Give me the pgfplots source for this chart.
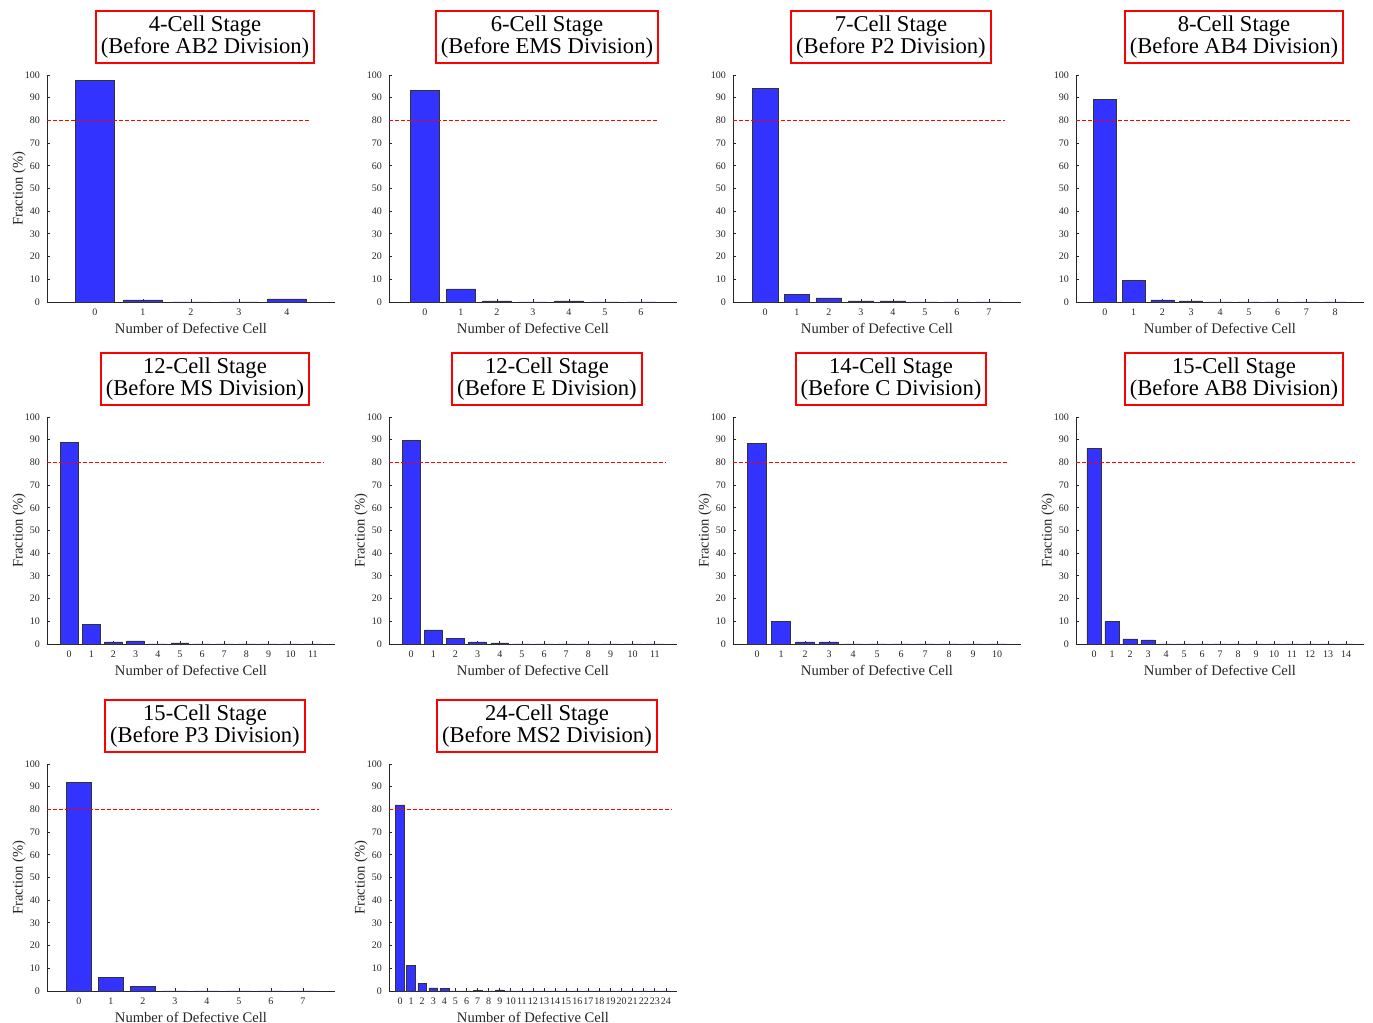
\documentclass[border=0pt]{standalone}
\usepackage{fontspec}
\setmainfont{Liberation Serif}
\usepackage{pgfplots}
\pgfplotsset{compat=1.18}
\definecolor{barblue}{rgb}{0.2,0.2,1}
\definecolor{axgray}{rgb}{0.15,0.15,0.15}
\pgfplotsset{
 panel/.style={
  scale only axis, width=144pt, height=113.5pt,
  axis x line=bottom, axis y line=left,
  axis line style={axgray, line width=0.4pt, -},
  ymin=0, ymax=100, ytick={0,10,...,100},
  xmin=-1,
  tick align=inside, major tick length=1.5pt,
  tick style={axgray, line width=0.4pt},
  tick label style={font=\fontsize{5}{6}\selectfont, text=axgray},
  /pgf/number format/assume math mode=true,
  xlabel={Number of Defective Cell},
  label style={font=\fontsize{7.3}{8}\selectfont, text=axgray},
  xlabel style={at={(axis description cs:0.5,-0.1145)}, anchor=center},
  ylabel style={at={(axis description cs:-0.097,0.5)}, anchor=center},
  every axis title shift=0pt,
  title style={at={(axis description cs:0.5486,1.1674)}, anchor=center,
    draw=red, line width=1pt, align=center, inner sep=2.5pt,
    font=\fontsize{11.3}{11}\selectfont, text=black},
  clip=false,
 },
 bars/.style={ybar, bar width=0.8, fill=barblue, draw=black!80, line width=0.3pt},
 thr/.style={color=red, line width=0.6pt, dash pattern=on 2pt off 1pt},
}
\begin{document}
\begin{tikzpicture}
\useasboundingbox (0,0) rectangle (686.5pt,511.5pt);
% Row 1
\begin{axis}[panel, at={(23.5pt,360.5pt)}, anchor=south west, xmax=5, xtick={0,...,4},
  ylabel={Fraction (\%)}, title={4-Cell Stage\\(Before AB2 Division)}]
\addplot[bars] coordinates {(0,97.7) (1,0.9) (2,0) (3,0) (4,1.4)};
\addplot[thr] coordinates {(-1,80) (4.5,80)};
\end{axis}
\begin{axis}[panel, at={(194.5pt,360.5pt)}, anchor=south west, xmax=7, xtick={0,...,6},
  title={6-Cell Stage\\(Before EMS Division)}]
\addplot[bars] coordinates {(0,93.2) (1,5.8) (2,0.5) (3,0) (4,0.5) (5,0) (6,0)};
\addplot[thr] coordinates {(-1,80) (6.5,80)};
\end{axis}
\begin{axis}[panel, at={(366.5pt,360.5pt)}, anchor=south west, xmax=8, xtick={0,...,7},
  title={7-Cell Stage\\(Before P2 Division)}]
\addplot[bars] coordinates {(0,94.0) (1,3.2) (2,1.8) (3,0.5) (4,0.5) (5,0) (6,0) (7,0)};
\addplot[thr] coordinates {(-1,80) (7.5,80)};
\end{axis}
\begin{axis}[panel, at={(538pt,360.5pt)}, anchor=south west, xmax=9, xtick={0,...,8},
  title={8-Cell Stage\\(Before AB4 Division)}]
\addplot[bars] coordinates {(0,89.2) (1,9.4) (2,0.9) (3,0.5) (4,0) (5,0) (6,0) (7,0) (8,0)};
\addplot[thr] coordinates {(-1,80) (8.5,80)};
\end{axis}
% Row 2
\begin{axis}[panel, at={(23.5pt,189.5pt)}, anchor=south west, xmax=12, xtick={0,...,11},
  ylabel={Fraction (\%)}, title={12-Cell Stage\\(Before MS Division)}]
\addplot[bars] coordinates {(0,88.7) (1,8.5) (2,0.9) (3,1.4) (4,0) (5,0.5) (6,0) (7,0) (8,0) (9,0) (10,0) (11,0)};
\addplot[thr] coordinates {(-1,80) (11.5,80)};
\end{axis}
\begin{axis}[panel, at={(194.5pt,189.5pt)}, anchor=south west, xmax=12, xtick={0,...,11},
  ylabel={Fraction (\%)}, title={12-Cell Stage\\(Before E Division)}]
\addplot[bars] coordinates {(0,89.8) (1,6.2) (2,2.6) (3,0.9) (4,0.5) (5,0) (6,0) (7,0) (8,0) (9,0) (10,0) (11,0)};
\addplot[thr] coordinates {(-1,80) (11.5,80)};
\end{axis}
\begin{axis}[panel, at={(366.5pt,189.5pt)}, anchor=south west, xmax=11, xtick={0,...,10},
  ylabel={Fraction (\%)}, title={14-Cell Stage\\(Before C Division)}]
\addplot[bars] coordinates {(0,88.4) (1,9.8) (2,0.9) (3,0.9) (4,0) (5,0) (6,0) (7,0) (8,0) (9,0) (10,0)};
\addplot[thr] coordinates {(-1,80) (10.5,80)};
\end{axis}
\begin{axis}[panel, at={(538pt,189.5pt)}, anchor=south west, xmax=15, xtick={0,...,14},
  ylabel={Fraction (\%)}, title={15-Cell Stage\\(Before AB8 Division)}]
\addplot[bars] coordinates {(0,86.1) (1,9.8) (2,2.2) (3,1.8) (4,0) (5,0) (6,0) (7,0) (8,0) (9,0) (10,0) (11,0) (12,0) (13,0) (14,0)};
\addplot[thr] coordinates {(-1,80) (14.5,80)};
\end{axis}
% Row 3
\begin{axis}[panel, at={(23.5pt,16pt)}, anchor=south west, xmax=8, xtick={0,...,7},
  ylabel={Fraction (\%)}, title={15-Cell Stage\\(Before P3 Division)}]
\addplot[bars] coordinates {(0,91.8) (1,6.0) (2,2.2) (3,0) (4,0) (5,0) (6,0) (7,0)};
\addplot[thr] coordinates {(-1,80) (7.5,80)};
\end{axis}
\begin{axis}[panel, at={(194.5pt,16pt)}, anchor=south west, xmax=25, xtick={0,...,24},
  ylabel={Fraction (\%)}, title={24-Cell Stage\\(Before MS2 Division)}]
\addplot[bars] coordinates {(0,82.0) (1,11.2) (2,3.5) (3,1.4) (4,1.0) (5,0) (6,0) (7,0.4) (8,0) (9,0.5) (10,0) (11,0) (12,0) (13,0) (14,0) (15,0) (16,0) (17,0) (18,0) (19,0) (20,0) (21,0) (22,0) (23,0) (24,0)};
\addplot[thr] coordinates {(-1,80) (24.5,80)};
\end{axis}
\end{tikzpicture}
\end{document}
